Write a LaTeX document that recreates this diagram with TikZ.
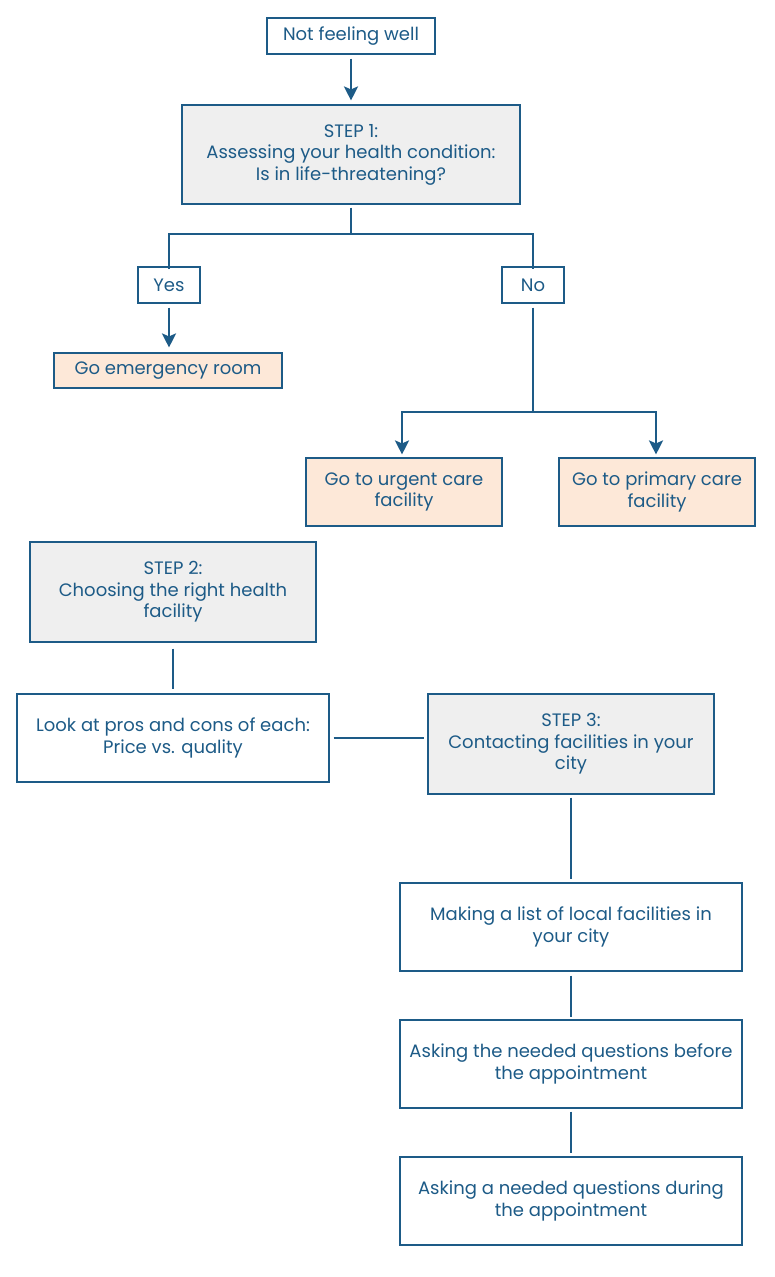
\documentclass[tikz,border=0pt]{standalone}
\usepackage{fontspec}
\setmainfont{Poppins}
\usetikzlibrary{arrows.meta,calc}
\definecolor{dblue}{HTML}{1D5B87}
\definecolor{gfill}{HTML}{EFEFEF}
\definecolor{pfill}{HTML}{FDE8D8}
\tikzset{
  box/.style={draw=dblue, line width=1.1pt, text=dblue, align=center, inner sep=0pt,
    font=\fontsize{18}{21.5}\selectfont},
  stepbox/.style={box, fill=gfill},
  actbox/.style={box, fill=pfill},
  conn/.style={draw=dblue, line width=2.4pt},
  arr/.style={conn, -{Stealth[length=14pt,width=14pt,inset=3pt]}},
}
\begin{document}
\begin{tikzpicture}[x=1pt,y=-1pt]
\useasboundingbox[fill=white] (0,0) rectangle (774,1277);
\node[box, minimum width=168, minimum height=36] (nfw) at (351,36) {Not feeling well};
\node[stepbox, minimum width=338, minimum height=99] (s1) at (351,154.5) {STEP 1:\\Assessing your health condition:\\Is in life-threatening?};
\node[box, minimum width=62, minimum height=36] (yes) at (169,285) {Yes};
\node[box, minimum width=62, minimum height=36] (no) at (533,285) {No};
\node[actbox, minimum width=228, minimum height=35] (er) at (168,370.5) {Go emergency room};
\node[actbox, minimum width=196, minimum height=68] (urg) at (404,492) {Go to urgent care\\facility};
\node[actbox, minimum width=196, minimum height=68] (pri) at (657,492) {Go to primary care\\facility};
\node[stepbox, minimum width=286, minimum height=100] (s2) at (173,592) {STEP 2:\\Choosing the right health\\facility};
\node[box, minimum width=312, minimum height=88] (pros) at (173,738) {Look at pros and cons of each:\\Price vs. quality};
\node[stepbox, minimum width=286, minimum height=100] (s3) at (571,744) {STEP 3:\\Contacting facilities in your\\city};
\node[box, minimum width=342, minimum height=88] (list) at (571,927) {Making a list of local facilities in\\your city};
\node[box, minimum width=342, minimum height=88] (before) at (571,1064) {Asking the needed questions before\\the appointment};
\node[box, minimum width=342, minimum height=88] (during) at (571,1201) {Asking a needed questions during\\the appointment};

\draw[arr, shorten <=4pt, shorten >=4pt] (nfw.south) -- (s1.north);
\coordinate (j1) at (351,234);
\draw[conn, shorten <=3pt] (s1.south) -- (j1);
\draw[conn] (j1) -| ([yshift=-3]yes.north);
\draw[conn] (j1) -| ([yshift=-3]no.north);
\draw[arr, shorten <=4pt, shorten >=5pt] (yes.south) -- (yes.south |- er.north);
\coordinate (j2) at (533,412);
\draw[conn, shorten <=4pt] (no.south) -- (j2);
\draw[arr, shorten >=3pt] (j2) -| ([xshift=-2]urg.north);
\draw[arr, shorten >=3pt] (j2) -| ([xshift=-1]pri.north);
\draw[conn, shorten <=6pt, shorten >=4pt] (s2.south) -- (pros.north);
\draw[conn, shorten <=4pt, shorten >=3pt] (pros.east) -- (pros.east -| s3.west);
\draw[conn, shorten <=3pt, shorten >=3pt] (s3.south) -- (list.north);
\draw[conn, shorten <=4pt, shorten >=2pt] (list.south) -- (before.north);
\draw[conn, shorten <=3pt, shorten >=3pt] (before.south) -- (during.north);
\end{tikzpicture}
\end{document}
